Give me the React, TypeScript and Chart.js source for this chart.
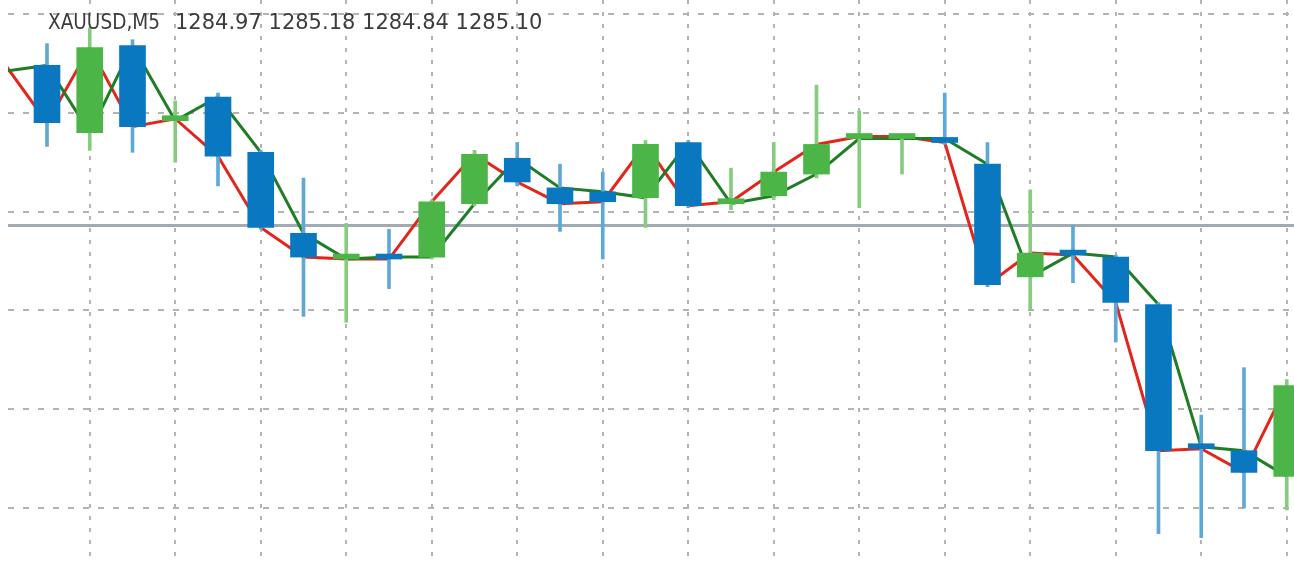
import React, { useEffect, useRef } from "react";
import { Chart, registerables } from "chart.js";

Chart.register(...registerables);

// ---- data ----
const candleIndex = [
  1, 2, 3, 4, 5, 6, 7, 8, 9, 10, 11, 12, 13, 14, 15,
  16, 17, 18, 19, 20, 21, 22, 23, 24, 25, 26, 27, 28, 29, 30,
];
const opens = [
  1286.74, 1286.40, 1286.84, 1286.46, 1286.58, 1286.30, 1285.89, 1285.76, 1285.77, 1285.77,
  1286.04, 1286.27, 1286.12, 1286.10, 1286.07, 1286.35, 1286.04, 1286.08, 1286.19, 1286.37,
  1286.37, 1286.37, 1286.24, 1285.67, 1285.79, 1285.77, 1285.53, 1284.81, 1284.79, 1284.66,
];
const highs = [
  1286.85, 1286.93, 1286.87, 1286.56, 1286.60, 1286.31, 1286.17, 1285.94, 1285.91, 1286.06,
  1286.31, 1286.35, 1286.24, 1286.20, 1286.36, 1286.36, 1286.22, 1286.35, 1286.64, 1286.51,
  1286.38, 1286.60, 1286.35, 1286.11, 1285.93, 1285.78, 1285.54, 1284.97, 1285.21, 1285.15,
];
const lows = [
  1286.33, 1286.31, 1286.30, 1286.25, 1286.13, 1285.91, 1285.47, 1285.44, 1285.61, 1285.76,
  1286.03, 1286.13, 1285.90, 1285.76, 1285.92, 1286.02, 1286.01, 1286.06, 1286.17, 1286.02,
  1286.19, 1286.34, 1285.62, 1285.50, 1285.64, 1285.34, 1284.37, 1284.35, 1284.50, 1284.49,
];
const closes = [
  1286.45, 1286.83, 1286.43, 1286.47, 1286.28, 1285.92, 1285.77, 1285.76, 1285.76, 1286.05,
  1286.29, 1286.15, 1286.04, 1286.05, 1286.34, 1286.03, 1286.05, 1286.20, 1286.34, 1286.38,
  1286.38, 1286.35, 1285.63, 1285.79, 1285.78, 1285.54, 1284.79, 1284.80, 1284.68, 1285.12,
];
// bar just left of the visible window (only its open/close lines show)
const leadIndex = 0;
const leadOpen = 1286.71;
const leadClose = 1286.75;
const bidPrice = 1285.93;
const priceGridTicks = [1284.5, 1285.0, 1285.5, 1286.0, 1286.5, 1287.0];
const barGridTicks = [2, 4, 6, 8, 10, 12, 14, 16, 18, 20, 22, 24, 26, 28, 30];
const headerSymbol = "XAUUSD,M5";
const headerValues = ["1284.97", "1285.18", "1284.84", "1285.10"];

// ---- styles ----
const BULL = "#4cb547";
const BEAR = "#0a78c0";
const BULL_WICK = "#86cb7e";
const BEAR_WICK = "#5fa8d6";

export default function App() {
  const ref = useRef<HTMLCanvasElement | null>(null);

  useEffect(() => {
    if (!ref.current) return;
    const up = candleIndex.map((_, i) => closes[i] >= opens[i]);

    const headerPlugin = {
      id: "header",
      afterDraw(chart: any) {
        const ctx = chart.ctx;
        ctx.save();
        ctx.fillStyle = "#3c3c3c";
        ctx.font = '21px "DejaVu Sans", sans-serif';
        ctx.textBaseline = "alphabetic";
        ctx.fillText(headerSymbol, 48, 29, 112);
        ctx.fillText(headerValues.join(" "), 175, 29, 373);
        ctx.restore();
      },
    };

    const chart = new Chart(ref.current, {
      type: "bar",
      data: {
        datasets: [
          {
            type: "bar",
            label: "body",
            data: candleIndex.map((x, i) => ({ x, y: [opens[i], closes[i]] })) as any,
            backgroundColor: up.map((u) => (u ? BULL : BEAR)),
            borderWidth: 0,
            barThickness: 26,
            minBarLength: 5,
            grouped: false,
            order: 0,
          } as any,
          {
            type: "bar",
            label: "wick",
            data: candleIndex.map((x, i) => ({ x, y: [lows[i], highs[i]] })) as any,
            backgroundColor: up.map((u) => (u ? BULL_WICK : BEAR_WICK)),
            borderWidth: 0,
            barThickness: 3,
            grouped: false,
            order: 1,
          } as any,
          {
            type: "line",
            label: "open",
            data: [{ x: leadIndex, y: leadOpen }, ...candleIndex.map((x, i) => ({ x, y: opens[i] }))],
            borderColor: "#1f7d25",
            borderWidth: 3,
            pointRadius: 0,
            tension: 0,
            order: 2,
          } as any,
          {
            type: "line",
            label: "close",
            data: [{ x: leadIndex, y: leadClose }, ...candleIndex.map((x, i) => ({ x, y: closes[i] }))],
            borderColor: "#e2261c",
            borderWidth: 3,
            pointRadius: 0,
            tension: 0,
            order: 3,
          } as any,
          {
            type: "line",
            label: "bid",
            data: [
              { x: leadIndex - 1, y: bidPrice },
              { x: candleIndex[candleIndex.length - 1] + 2, y: bidPrice },
            ],
            borderColor: "#a2aab2",
            borderWidth: 3,
            pointRadius: 0,
            order: 5,
          } as any,
        ],
      },
      options: {
        animation: false,
        responsive: true,
        maintainAspectRatio: false,
        layout: { padding: { left: 8, right: 0, top: 0, bottom: 7 } },
        plugins: { legend: { display: false }, tooltip: { enabled: false } },
        scales: {
          x: {
            type: "linear",
            min: 0.0877,
            max: 30.17,
            offset: false,
            ticks: { display: false, padding: 0 },
            grid: { color: "#b3b3b3", lineWidth: 2, drawTicks: false, offset: false },
            border: { display: false, dash: [4, 8] },
            afterBuildTicks: (s: any) => {
              s.ticks = barGridTicks.map((v) => ({ value: v }));
            },
          },
          y: {
            type: "linear",
            min: 1284.257,
            max: 1287.071,
            ticks: { display: false, padding: 0 },
            grid: { color: "#b3b3b3", lineWidth: 2, drawTicks: false },
            border: { display: false, dash: [6, 9] },
            afterBuildTicks: (s: any) => {
              s.ticks = priceGridTicks.map((v) => ({ value: v }));
            },
          },
        },
      } as any,
      plugins: [headerPlugin],
    });
    return () => chart.destroy();
  }, []);

  return (
    <div
      style={{
        position: "fixed",
        left: 0,
        top: 0,
        width: 1294,
        height: 563,
        background: "#ffffff",
      }}
    >
      <canvas ref={ref} />
    </div>
  );
}
